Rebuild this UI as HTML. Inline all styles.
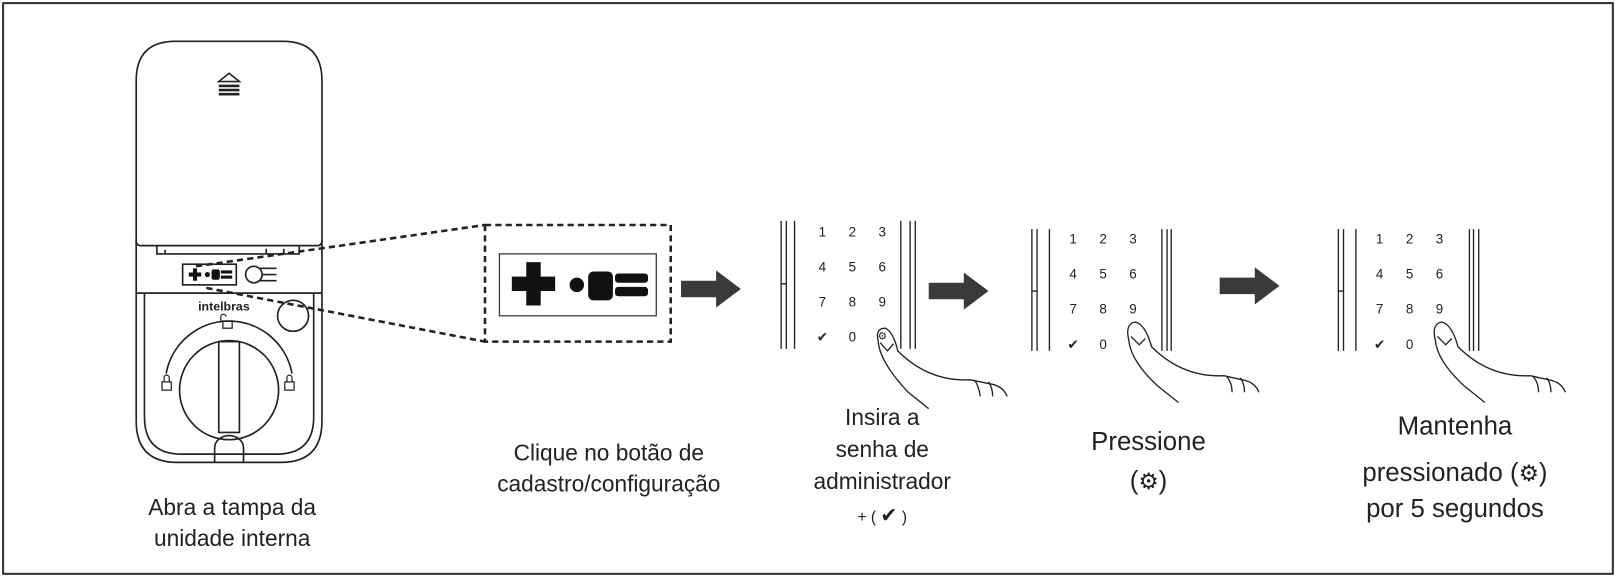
<!DOCTYPE html>
<html><head><meta charset="utf-8"><style>
html,body{margin:0;padding:0;background:#fff}
svg{display:block}
text{font-family:"Liberation Sans",sans-serif;fill:#222}
</style></head><body>
<svg width="1618" height="579" viewBox="0 0 1568 561" preserveAspectRatio="none" xmlns="http://www.w3.org/2000/svg">
<rect x="3" y="3" width="1560" height="553" fill="#fff" stroke="#333" stroke-width="2"/>
<!-- lock body -->
<g fill="none" stroke="#222" stroke-width="1.6">
<path d="M132 232 L132 408 Q132 448 172 448 L272 448 Q312 448 312 408 L312 232"/>
<path d="M140 284 L140 404 Q140 440 176 440 L268 440 Q304 440 304 404 L304 284"/>
<line x1="132" y1="284" x2="312" y2="284"/>
<path d="M132 238 L132 78 Q132 40 170 40 L274 40 Q312 40 312 78 L312 233 Q312 238 307 238 L137 238 Q132 238 132 233Z" fill="#fff"/>
<path d="M152 238 L152 246 L290 246 L290 238"/>
<line x1="160" y1="246" x2="160" y2="242"/><line x1="258" y1="246" x2="258" y2="241"/><line x1="275" y1="246" x2="275" y2="241"/>
<rect x="177" y="256" width="52" height="20"/>
<circle cx="246" cy="266" r="8"/>
<path d="M252 260 L268 260 M252 272 L268 272 M254 266 L268 266"/>
<circle cx="284" cy="306" r="15"/>
<circle cx="222" cy="378" r="48"/>
<rect x="212" y="331" width="20" height="88"/>
<path d="M161 362 A62 62 0 0 1 283 362"/>
<path d="M208 448 L208 434 A14 12 0 0 1 236 434 L236 448"/>
</g>
<path d="M222 71 L232 79 L212 79Z" fill="none" stroke="#222" stroke-width="1.6"/>
<rect x="212" y="82" width="20" height="2.5" fill="#222"/><rect x="212" y="86" width="20" height="2.5" fill="#222"/><rect x="212" y="90" width="20" height="2.5" fill="#222"/>
<!-- small icon in lock -->
<rect x="183" y="264" width="12" height="4" fill="#111"/><rect x="187" y="260" width="4" height="12" fill="#111"/>
<circle cx="201" cy="266" r="2.5" fill="#111"/><rect x="205" y="261" width="8" height="10" rx="2" fill="#111"/><rect x="214" y="262" width="11" height="3" fill="#111"/><rect x="214" y="267" width="11" height="3" fill="#111"/>
<text x="217" y="301" font-size="12" font-weight="bold" text-anchor="middle" fill="#222">intelbras</text>
<!-- lock icons -->
<g fill="none" stroke="#222" stroke-width="1.2">
<rect x="157" y="370" width="9" height="8"/><path d="M159 370 V366 A2.5 2.5 0 0 1 164 366 V370"/>
<rect x="276" y="370" width="9" height="8"/><path d="M278 370 V366 A2.5 2.5 0 0 1 283 366 V370"/>
<rect x="216" y="311" width="9" height="7"/><path d="M214 311 V307 A2.5 2.5 0 0 1 219 307"/>
</g>
<!-- dashed -->
<g fill="none" stroke="#222" stroke-width="2.5" stroke-dasharray="6,4">
<line x1="190" y1="258" x2="470" y2="218"/>
<line x1="200" y1="279" x2="470" y2="331"/>
<rect x="470" y="218" width="180" height="113"/>
</g>
<rect x="484" y="246" width="152" height="60" fill="#fff" stroke="#333" stroke-width="1.2"/>
<rect x="496" y="268" width="42" height="14" fill="#111"/><rect x="510" y="254" width="14" height="42" fill="#111"/>
<circle cx="559" cy="276" r="7" fill="#111"/><rect x="570" y="263" width="24" height="28" rx="5" fill="#111"/><rect x="596" y="265" width="32" height="9" rx="3" fill="#111"/><rect x="596" y="278" width="32" height="9" rx="3" fill="#111"/>
<!-- arrows -->
<g fill="#3a3a3a">
<path d="M660 272 H694 V262 L718 280 L694 298 V288 H660Z"/>
<path d="M900 274 H934 V264 L958 282 L934 300 V290 H900Z"/>
<path d="M1182 269 H1216 V259 L1240 277 L1216 295 V285 H1182Z"/>
</g>
<!-- keypads -->
<g id="kp1" fill="none" stroke="#222" stroke-width="1.3">
<path d="M757 214 V338 M762 214 V338 M770 214 V338 M757 275 H762 M873 214 V338 M882 214 V338 M887 214 V338"/>
<path d="M851 330 Q848 318 858 318 Q866 322 870 340 Q900 370 940 368 L960 372 Q972 374 976 384 M944 368 Q948 372 950 384 M958 370 Q962 376 962 384 M851 330 Q852 350 880 380 L900 396"/>
<path d="M853 332 L860 340 L866 333"/>
</g>
<g font-family="Liberation Sans" font-size="13" text-anchor="middle">
<text x="797" y="229">1</text><text x="826" y="229">2</text><text x="855" y="229">3</text>
<text x="797" y="263">4</text><text x="826" y="263">5</text><text x="855" y="263">6</text>
<text x="797" y="297">7</text><text x="826" y="297">8</text><text x="855" y="297">9</text>
<text x="797" y="331">✔</text><text x="826" y="331">0</text><text x="855" y="329" font-family="DejaVu Sans" font-size="10">⚙</text>
</g>
<g fill="none" stroke="#222" stroke-width="1.3">
<path d="M1000 222 V340 M1005 222 V340 M1017 222 V340 M1000 282 H1005 M1126 222 V340 M1131 222 V340 M1135 222 V340"/>
<path d="M1094 330 Q1090 314 1100 312 Q1110 314 1116 336 Q1146 366 1186 364 L1204 368 Q1216 370 1220 380 M1188 364 Q1194 370 1194 380 M1202 366 Q1206 372 1206 380 M1094 330 Q1096 350 1122 374 L1142 390"/>
<path d="M1096 326 L1104 334 L1110 328"/>
</g>
<g font-size="13" text-anchor="middle">
<text x="1040" y="236">1</text><text x="1069" y="236">2</text><text x="1098" y="236">3</text>
<text x="1040" y="270">4</text><text x="1069" y="270">5</text><text x="1098" y="270">6</text>
<text x="1040" y="304">7</text><text x="1069" y="304">8</text><text x="1098" y="304">9</text>
<text x="1040" y="338">✔</text><text x="1069" y="338">0</text>
</g>
<g fill="none" stroke="#222" stroke-width="1.3">
<path d="M1297 222 V340 M1302 222 V340 M1314 222 V340 M1297 282 H1302 M1424 222 V340 M1428 222 V340 M1433 222 V340"/>
<path d="M1391 330 Q1387 314 1397 312 Q1407 314 1413 336 Q1443 366 1483 364 L1501 368 Q1513 370 1517 380 M1485 364 Q1491 370 1491 380 M1499 366 Q1503 372 1503 380 M1391 330 Q1393 350 1419 374 L1439 390"/>
<path d="M1393 326 L1401 334 L1407 328"/>
</g>
<g font-size="13" text-anchor="middle">
<text x="1337" y="236">1</text><text x="1366" y="236">2</text><text x="1395" y="236">3</text>
<text x="1337" y="270">4</text><text x="1366" y="270">5</text><text x="1395" y="270">6</text>
<text x="1337" y="304">7</text><text x="1366" y="304">8</text><text x="1395" y="304">9</text>
<text x="1337" y="338">✔</text><text x="1366" y="338">0</text>
</g>
<!-- labels -->
<g text-anchor="middle" font-size="22">
<text x="225" y="499">Abra a tampa da</text>
<text x="225" y="529">unidade interna</text>
<text x="590" y="446">Clique no botão de</text>
<text x="590" y="476">cadastro/configuração</text>
<text x="855" y="412">Insira a</text>
<text x="855" y="443">senha de</text>
<text x="855" y="474">administrador</text>
<text x="855" y="506" font-size="15">+ ( <tspan font-size="20">✔</tspan> )</text>
<text x="1113" y="436" font-size="25">Pressione</text>
<text x="1113" y="474" font-size="25">(<tspan font-family="DejaVu Sans" font-size="22">⚙</tspan>)</text>
<text x="1410" y="421" font-size="25">Mantenha</text>
<text x="1410" y="466" font-size="25">pressionado (<tspan font-family="DejaVu Sans" font-size="22">⚙</tspan>)</text>
<text x="1410" y="501" font-size="25">por 5 segundos</text>
</g>
</svg>
</body></html>
